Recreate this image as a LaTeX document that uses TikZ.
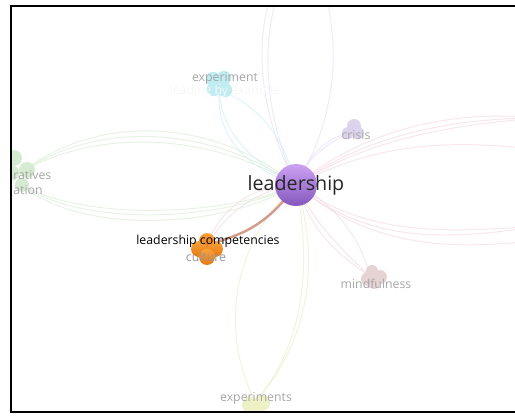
\documentclass[tikz,border=0pt]{standalone}
\usepackage{fontspec}
\setmainfont{Open Sans}
\definecolor{leadTop}{HTML}{CDA2F4}
\definecolor{leadBot}{HTML}{8457BB}
\definecolor{orangeTop}{HTML}{F7A23E}
\definecolor{orangeBot}{HTML}{E8780E}
\definecolor{cyanBub}{HTML}{BFEDF2}
\definecolor{lilacBub}{HTML}{DDD3EC}
\definecolor{roseBub}{HTML}{E6D3D3}
\definecolor{yellowBub}{HTML}{EEF0C6}
\definecolor{greenBub}{HTML}{D6ECD2}
\definecolor{tagGray}{HTML}{A6A6A6}
\definecolor{lilacLink}{HTML}{E9E2F7}
\definecolor{greenLink}{HTML}{DDEEDA}
\definecolor{pinkLink}{HTML}{F6DCE7}
\definecolor{cyanLink}{HTML}{D5EFF5}
\definecolor{yellowLink}{HTML}{EDEFCB}
\definecolor{roseLink}{HTML}{F2DEE3}
\definecolor{mainLink}{HTML}{D39C8C}
\begin{document}
\begin{tikzpicture}
    [x=0.02cm, y=-0.02cm,
    bubble/.style = {circle, inner sep=0pt, minimum size=#1},
    tag/.style = {text=tagGray, inner sep=0pt,
                font=\fontsize{7}{8}\selectfont},
    link/.style = {line width=0.55pt, draw opacity=0.75}]
    \useasboundingbox (0,0) rectangle (515,416);
    % Nodos
    \coordinate (L) at (296,185);
    \coordinate (G) at (22,172);
    \coordinate (Gb) at (20,184);
    \coordinate (E) at (219,90);
    \coordinate (C) at (350,132);
    \coordinate (M) at (370,276);
    \coordinate (X) at (255,402);
    \coordinate (LC) at (207,245);
    \coordinate (up) at (300,-60);
    \coordinate (eastA) at (540,118);
    \coordinate (eastB) at (540,150);
    \coordinate (eastC) at (540,226);
    \coordinate (eastD) at (540,240);
    \begin{scope}
        \clip (12,7) rectangle (515,411);
        % Enlaces hacia arriba
        \draw[link, lilacLink] (L) .. controls (248,90) and (252,0) .. (up);
        \draw[link, lilacLink] (L) .. controls (256,95) and (260,10) .. (up);
        \draw[link, lilacLink] (L) .. controls (348,100) and (342,0) .. (up);
        % Enlaces verdes
        \draw[link, greenLink] (G) .. controls (90,125) and (200,120) .. (L);
        \draw[link, greenLink] (G) .. controls (90,118) and (205,112) .. (L);
        \draw[link, greenLink] (G) .. controls (90,132) and (200,128) .. (L);
        \draw[link, greenLink] (Gb) .. controls (80,235) and (220,230) .. (L);
        \draw[link, greenLink] (Gb) .. controls (80,220) and (220,218) .. (L);
        \draw[link, greenLink] (Gb) .. controls (80,226) and (215,224) .. (L);
        % Enlaces rosas
        \draw[link, pinkLink] (L) .. controls (370,125) and (460,110) .. (eastA);
        \draw[link, pinkLink] (L) .. controls (370,132) and (460,118) .. (eastA);
        \draw[link, pinkLink] (L) .. controls (372,136) and (462,124) .. (eastA);
        \draw[link, pinkLink] (L) .. controls (380,140) and (460,140) .. (eastB);
        \draw[link, pinkLink] (L) .. controls (370,245) and (450,240) .. (eastC);
        \draw[link, pinkLink] (L) .. controls (370,238) and (450,232) .. (eastC);
        \draw[link, pinkLink] (L) .. controls (372,250) and (455,250) .. (eastD);
        % Enlaces cian
        \draw[link, cyanLink] (E) .. controls (222,140) and (260,165) .. (L);
        \draw[link, cyanLink] (E) .. controls (216,145) and (255,170) .. (L);
        \draw[link, cyanLink] (E) .. controls (260,105) and (285,140) .. (L);
        % Enlaces crisis
        \draw[link, lilacLink] (C) .. controls (325,145) and (305,160) .. (L);
        \draw[link, lilacLink] (C) .. controls (330,138) and (310,150) .. (L);
        % Enlaces mindfulness
        \draw[link, roseLink] (M) .. controls (330,250) and (310,225) .. (L);
        \draw[link, roseLink] (M) .. controls (336,245) and (312,218) .. (L);
        \draw[link, roseLink] (M) .. controls (360,235) and (330,200) .. (L);
        % Enlaces experiments
        \draw[link, yellowLink] (X) .. controls (215,320) and (240,235) .. (L);
        \draw[link, yellowLink] (X) .. controls (320,330) and (315,240) .. (L);
        \draw[link, yellowLink] (X) .. controls (313,335) and (308,245) .. (L);
        % Enlaces leadership competencies
        \draw[link, roseLink] (LC) .. controls (220,210) and (250,185) .. (L);
        \draw[link, roseLink] (LC) .. controls (225,215) and (255,190) .. (L);
        \draw[mainLink, line width=1.4pt] (L) .. controls (265,228) and (240,235) .. (LC);
        % Burbujas
        \foreach \p/\s in {(14,158)/16, (27,170)/16, (12,173)/15, (22,185)/14}
            \node[bubble=\s*0.02cm, fill=greenBub] at \p {};
        \foreach \p in {(213,79), (224,78), (214,89), (225,90)}
            \node[bubble=0.29cm, fill=cyanBub] at \p {};
        \foreach \p/\s in {(354,126)/14, (348,133)/12, (358,133)/12}
            \node[bubble=\s*0.02cm, fill=lilacBub] at \p {};
        \foreach \p/\s in {(372,271)/12, (368,279)/14, (380,277)/14, (374,283)/12}
            \node[bubble=\s*0.02cm, fill=roseBub] at \p {};
        \foreach \p in {(250,405), (262,403), (256,411)}
            \node[bubble=0.32cm, fill=yellowBub] at \p {};
        \foreach \p in {(207,241), (199,249), (215,249), (207,257)}
            \node[bubble=0.32cm, top color=orangeTop, bottom color=orangeBot] at \p {};
        \node[bubble=0.84cm, top color=leadTop, bottom color=leadBot] (lead) at (L) {};
        % Etiquetas
        \node[tag, anchor=west] (narr) at (13,175) {ratives};
        \node[tag, anchor=west] (atn) at (13,190) {ation};
        \node[tag, text=black!3] (lbe) at (225,91) {leading by example};
        \node[tag] (expt) at (225,78) {experiment};
        \node[tag] (cris) at (356,135) {crisis};
        \node[tag] (mind) at (376,284) {mindfulness};
        \node[tag] (exps) at (256,398) {experiments};
        \node[tag, text=tagGray!90!black] (cult) at (206,257) {culture};
        \node[tag, text=black] (comp) at (208,241) {leadership competencies};
        \node[text=black!85, inner sep=0pt,
            font=\fontsize{11.2}{13}\selectfont] (leadtxt) at (296,185) {leadership};
    \end{scope}
    % Marco
    \draw[line width=1.2pt] (520,6) -- (11,6) -- (11,412) -- (520,412);
\end{tikzpicture}
\end{document}
